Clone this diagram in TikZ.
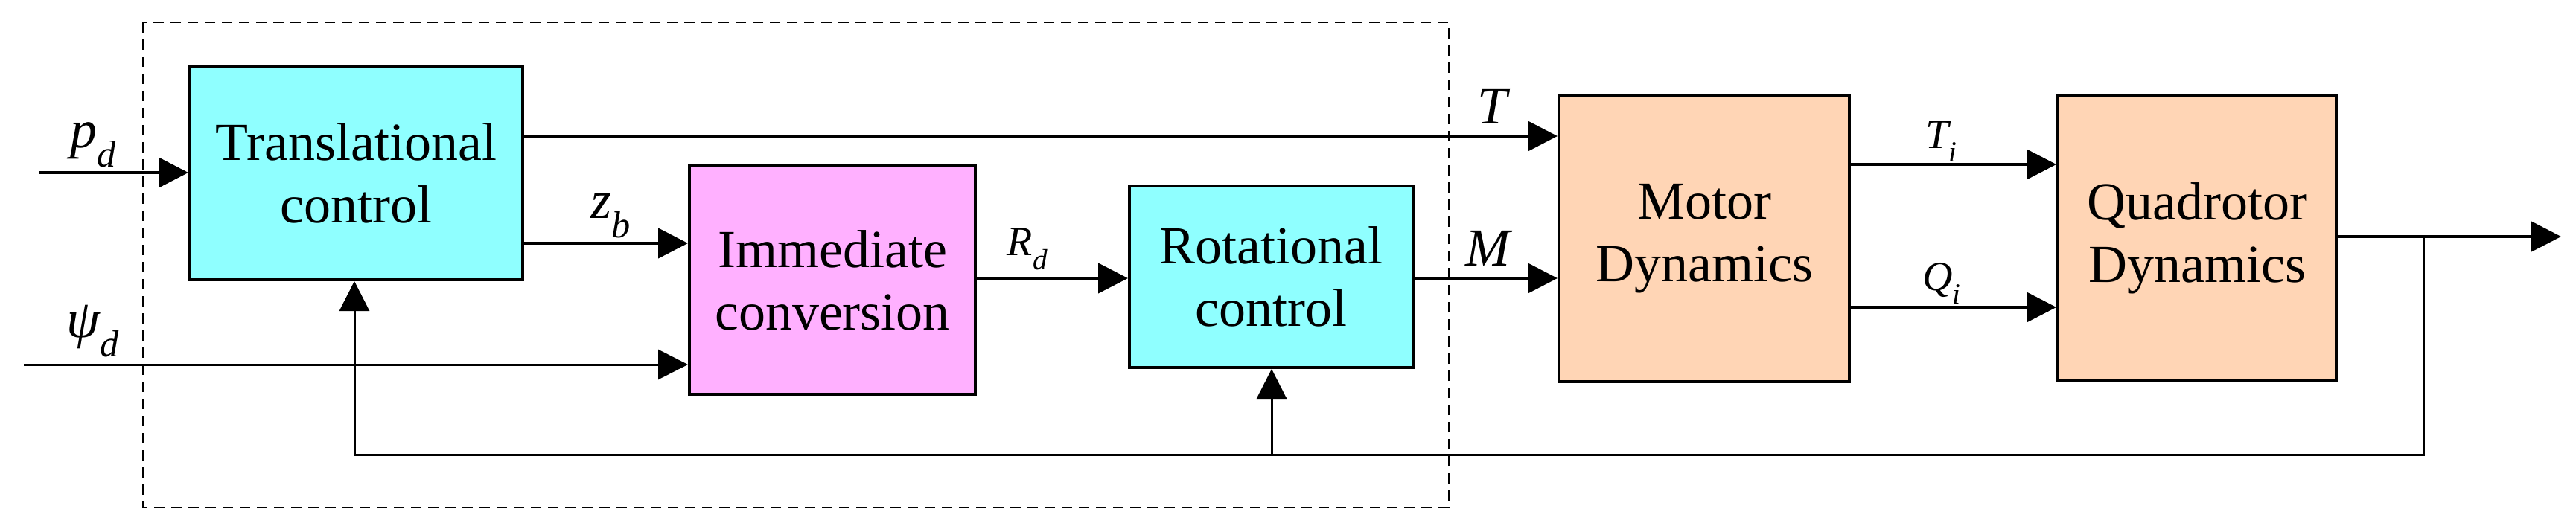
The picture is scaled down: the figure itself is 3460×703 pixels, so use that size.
\documentclass[tikz,border=0pt]{standalone}
\usepackage{fontspec}
\setmainfont{Liberation Serif}
\usetikzlibrary{arrows.meta}
\definecolor{cy}{HTML}{8FFFFF}
\definecolor{mg}{HTML}{FFB0FF}
\definecolor{pc}{HTML}{FFD5B5}
\begin{document}
\begin{tikzpicture}[x=1pt,y=1pt,
  box/.style={draw,line width=4pt,anchor=north west,align=center,inner sep=0,
    font=\fontsize{72}{84}\selectfont},
  arr/.style={line width=4.5pt,-{Triangle[length=40pt,width=40pt]}},
  thin/.style={line width=3pt},
  tarr/.style={thin,-{Triangle[length=40pt,width=40pt]}},
  lab/.style={font=\fontsize{72}{80}\selectfont\itshape},
  slab/.style={font=\fontsize{56}{64}\selectfont\itshape}]
\useasboundingbox (0,0) rectangle (3460,-703);
\draw[line width=2.5pt,dash pattern=on 14pt off 9pt] (192,-30) rectangle (1946,-682);
\node[box,fill=cy,minimum width=447pt,minimum height=287pt] (tc) at (253,-87) {Translational\\control};
\node[box,fill=mg,minimum width=384pt,minimum height=307pt] (ic) at (924,-221) {Immediate\\conversion};
\node[box,fill=cy,minimum width=381pt,minimum height=244pt] (rc) at (1515,-248) {Rotational\\control};
\node[box,fill=pc,minimum width=390pt,minimum height=385pt] (md) at (2092,-126) {Motor\\Dynamics};
\node[box,fill=pc,minimum width=374pt,minimum height=383pt] (qd) at (2762,-127) {Quadrotor\\Dynamics};
\coordinate (pin) at (52,-232);
\coordinate (psin) at (32,-490);
\coordinate (out) at (3440,-318);
\coordinate (fb) at (3255,-318);
\draw[arr] (pin) -- (tc.west |- pin);
\draw[tarr] (psin) -- (ic.west |- psin);
\draw[arr] (tc.east |- 0,-183) -- (md.west |- 0,-183);
\draw[arr] (tc.east |- 0,-327) -- (ic.west |- 0,-327);
\draw[arr] (ic.east |- 0,-374) -- (rc.west |- 0,-374);
\draw[arr] (rc.east |- 0,-374) -- (md.west |- 0,-374);
\draw[arr] (md.east |- 0,-221) -- (qd.west |- 0,-221);
\draw[arr] (md.east |- 0,-413) -- (qd.west |- 0,-413);
\draw[arr] (qd.east |- out) -- (out);
\draw[tarr] (fb) -- (3255,-611) -- (476,-611) -- (tc.south -| 476,0);
\draw[tarr] (1708,-611) -- (rc.south -| 1708,0);
\node[lab] (lp) at (125,-195) {p\textsubscript{d}};
\node[lab] (lpsi) at (125,-445) {ψ\textsubscript{d}};
\node[lab] (lz) at (820,-290) {z\textsubscript{b}};
\node[slab] (lr) at (1380,-335) {R\textsubscript{d}};
\node[lab] (lT) at (2004,-143) {T};
\node[lab] (lM) at (1998,-334) {M};
\node[slab] (lTi) at (2608,-190) {T\textsubscript{i}};
\node[slab] (lQi) at (2608,-381) {Q\textsubscript{i}};
\end{tikzpicture}
\end{document}
